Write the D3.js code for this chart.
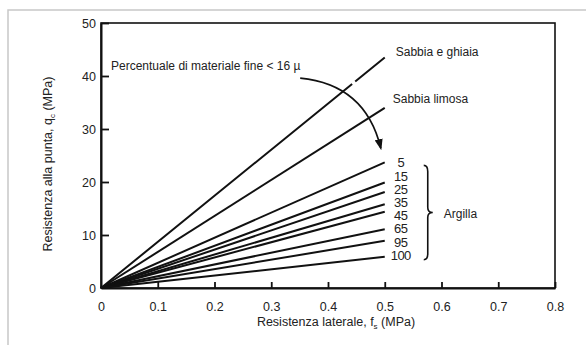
<!DOCTYPE html>
<html>
<head>
<meta charset="utf-8">
<script src="https://cdn.jsdelivr.net/npm/d3@7"></script>
<style>
  body { margin: 0; background: #fff; }
  text { font-family: "Liberation Sans", Arial, sans-serif; fill: #222; }
</style>
</head>
<body>
<script>
// data

const fsEnd = 0.5 // all lines stop at fs = 0.5 MPa

const sandNames = ["Sabbia e ghiaia", "Sabbia limosa"]
const sandEnds = [43.5, 34]

const finesPct = [5, 15, 25, 35, 45, 65, 95, 100]
const clayEnds = [23.7, 19.9, 18.1, 15.8, 14.4, 11.1, 8.9, 5.9]

const xTicks = [0, 0.1, 0.2, 0.3, 0.4, 0.5, 0.6, 0.7, 0.8]
const yTicks = [0, 10, 20, 30, 40, 50]

// arrow from the note down to the clay lines: start, control, end (fs, qc)
const arrowPts = [[0.351, 39.6], [0.466, 38.4], [0.493, 26.4]]

// chart

const W = 586, H = 345
const margin = {top: 23, right: 31, bottom: 57, left: 101}

const svg = d3.select("body").append("svg")
  .attr("width", W)
  .attr("height", H)

// light outer frame of the page
svg.append("path")
  .attr("d", `M8,${H} V10 H${W}`)
  .attr("fill", "none")
  .attr("stroke", "#c8c8c8")
  .attr("stroke-width", 1.5)

const x = d3.scaleLinear().domain([0, 0.8]).range([margin.left, W - margin.right])
const y = d3.scaleLinear().domain([0, 50]).range([H - margin.bottom, margin.top])

// plot box
svg.append("rect")
  .attr("x", x(0)).attr("y", y(50))
  .attr("width", x(0.8) - x(0)).attr("height", y(0) - y(50))
  .attr("fill", "none")
  .attr("stroke", "#111")
  .attr("stroke-width", 1.6)

const xAxis = d3.axisBottom(x)
  .tickValues(xTicks)
  .tickFormat(d => d === 0 ? "0" : d3.format(".1f")(d))
  .tickSizeInner(-6)
  .tickSizeOuter(0)
  .tickPadding(14)

const yAxis = d3.axisLeft(y)
  .tickValues(yTicks)
  .tickSizeInner(-8)
  .tickSizeOuter(0)
  .tickPadding(5)

const gx = svg.append("g")
  .attr("transform", `translate(0,${y(0)})`)
  .call(xAxis)
const gy = svg.append("g")
  .attr("transform", `translate(${x(0)},0)`)
  .call(yAxis)

;[gx, gy].forEach(g => {
  g.select(".domain").attr("stroke", "#111").attr("stroke-width", 2)
  g.selectAll(".tick line").attr("stroke", "#111").attr("stroke-width", 1.8)
  g.selectAll(".tick text")
    .attr("font-size", 12.5)
    .attr("font-family", "Liberation Sans, Arial, sans-serif")
    .attr("fill", "#222")
})
gx.selectAll(".tick").filter(d => d === 0).select("line").remove()
gy.selectAll(".tick").filter(d => d === 0).select("line").remove()

// axis titles
const xt = svg.append("text")
  .attr("x", 336).attr("y", 326)
  .attr("text-anchor", "middle")
  .attr("font-size", 12.5)
xt.append("tspan").text("Resistenza laterale, f")
xt.append("tspan").attr("font-size", 8).attr("dy", 3).text("s")
xt.append("tspan").attr("dy", -3).text(" (MPa)")

const yt = svg.append("text")
  .attr("transform", "translate(52,164) rotate(-90)")
  .attr("text-anchor", "middle")
  .attr("font-size", 12.5)
yt.append("tspan").text("Resistenza alla punta, q")
yt.append("tspan").attr("font-size", 8).attr("dy", 3).text("c")
yt.append("tspan").attr("dy", -3).text(" (MPa)")

// lines
const line = d3.line().x(d => x(d[0])).y(d => y(d[1]))

const sand = sandEnds.map((v, i) => ({ name: sandNames[i], pts: [[0, 0], [fsEnd, v]] }))
const clay = clayEnds.map((v, i) => ({ name: String(finesPct[i]), pts: [[0, 0], [fsEnd, v]] }))

svg.selectAll(".clay")
  .data(clay)
  .enter().append("path")
    .attr("class", "clay")
    .attr("d", d => line(d.pts))
    .attr("fill", "none")
    .attr("stroke", "#111")
    .attr("stroke-width", 2)

const sandPaths = svg.selectAll(".sand")
  .data(sand)
  .enter().append("path")
    .attr("class", "sand")
    .attr("d", d => line(d.pts))
    .attr("fill", "none")
    .attr("stroke", "#111")
    .attr("stroke-width", 2)

// small break in the top line where the arrow crosses it
sandPaths.filter((d, i) => i === 0).each(function () {
  const len = this.getTotalLength()
  const a = len * 0.885
  this.setAttribute("stroke-dasharray", `${a},4,${len}`)
})

// sand labels
svg.selectAll(".sand-label")
  .data(sand)
  .enter().append("text")
    .attr("class", "sand-label")
    .attr("x", (d, i) => x(fsEnd) + (i === 0 ? 11 : 8))
    .attr("y", (d, i) => y(d.pts[1][1]) + (i === 0 ? -1 : -5))
    .attr("font-size", 12)
    .text(d => d.name)

// clay labels, evenly stacked between first and last line ends
const labelY = d3.scaleLinear()
  .domain([0, clay.length - 1])
  .range([y(clayEnds[0]) + 5, y(clayEnds[clayEnds.length - 1]) + 3])

svg.selectAll(".clay-label")
  .data(clay)
  .enter().append("text")
    .attr("class", "clay-label")
    .attr("x", x(fsEnd) + 16)
    .attr("y", (d, i) => labelY(i))
    .attr("text-anchor", "middle")
    .attr("font-size", 13)
    .attr("letter-spacing", -0.6)
    .text(d => d.name)

// brace
const bx = x(fsEnd) + 43
const bTop = y(clayEnds[0]) + 3
const bBot = y(clayEnds[clayEnds.length - 1]) + 3
const bMid = (bTop + bBot) / 2
svg.append("path")
  .attr("d", `M${bx - 4},${bTop} Q${bx},${bTop} ${bx},${bTop + 6} V${bMid - 5} Q${bx},${bMid} ${bx + 5},${bMid}` +
    ` Q${bx},${bMid} ${bx},${bMid + 5} V${bBot - 6} Q${bx},${bBot} ${bx - 4},${bBot}`)
  .attr("fill", "none")
  .attr("stroke", "#111")
  .attr("stroke-width", 1.6)

svg.append("text")
  .attr("x", bx + 16).attr("y", bMid + 5)
  .attr("font-size", 12)
  .text("Argilla")

// note + curved arrow
svg.append("text")
  .attr("x", 111).attr("y", 70)
  .attr("font-size", 12)
  .text("Percentuale di materiale fine < 16 \u00b5")

svg.append("defs").append("marker")
  .attr("id", "head")
  .attr("viewBox", "0 0 10 10")
  .attr("refX", 8).attr("refY", 5)
  .attr("markerWidth", 7).attr("markerHeight", 5)
  .attr("orient", "auto")
  .attr("preserveAspectRatio", "none")
  .append("path")
    .attr("d", "M0,0 L10,5 L0,10 Z")
    .attr("fill", "#111")

const [p0, p1, p2] = arrowPts.map(d => [x(d[0]), y(d[1])])
svg.append("path")
  .attr("d", `M${p0[0]},${p0[1]} Q${p1[0]},${p1[1]} ${p2[0]},${p2[1]}`)
  .attr("fill", "none")
  .attr("stroke", "#111")
  .attr("stroke-width", 1.6)
  .attr("marker-end", "url(#head)")
</script>
</body>
</html>
